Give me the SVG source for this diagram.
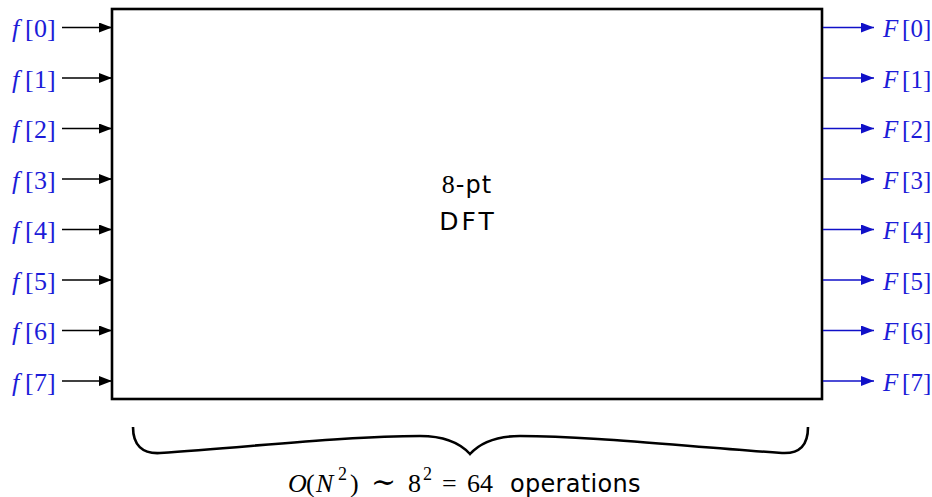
<svg xmlns="http://www.w3.org/2000/svg" width="932" height="497" viewBox="0 0 932 497">
<style>
.lbl{font-family:"Liberation Serif","DejaVu Serif",serif;font-size:26px;fill:#1c1cd8}
.it{font-style:italic}
.sans{font-family:"DejaVu Sans","Liberation Sans",sans-serif}
.math{font-family:"Liberation Serif","DejaVu Serif",serif;font-size:26px}
.in{stroke:#000;stroke-width:1.6;fill:none}
.out{stroke:#1010c8;stroke-width:1.6;fill:none}
.o{font-size:25px}
</style>
<defs>
<marker id="ab" markerWidth="14" markerHeight="10" refX="13" refY="5" orient="auto" markerUnits="userSpaceOnUse"><path d="M0,0 L13,5 L0,10 Z" fill="#000"/></marker>
<marker id="au" markerWidth="14" markerHeight="10" refX="13" refY="5" orient="auto" markerUnits="userSpaceOnUse"><path d="M0,0 L13,5 L0,10 Z" fill="#1010c8"/></marker>
</defs>
<rect width="932" height="497" fill="#fff"/>
<g id="dft">
<rect x="112" y="9" width="710" height="390" fill="#fff" stroke="#000" stroke-width="2.6"/>
<text x="467" y="193" text-anchor="middle" font-size="24" letter-spacing="1" class="sans"><tspan font-family="Liberation Serif,serif" font-size="26">8</tspan>-pt</text>
<text x="468" y="230" text-anchor="middle" font-size="25" letter-spacing="3" class="sans">DFT</text>
</g>
<g id="connectors">
<path class="in" marker-end="url(#ab)" d="M62,27.5H112"/>
<path class="in" marker-end="url(#ab)" d="M62,78H112"/>
<path class="in" marker-end="url(#ab)" d="M62,128.5H112"/>
<path class="in" marker-end="url(#ab)" d="M62,179H112"/>
<path class="in" marker-end="url(#ab)" d="M62,229.5H112"/>
<path class="in" marker-end="url(#ab)" d="M62,280H112"/>
<path class="in" marker-end="url(#ab)" d="M62,330.5H112"/>
<path class="in" marker-end="url(#ab)" d="M62,381H112"/>
<path class="out" marker-end="url(#au)" d="M823,27.5H874"/>
<path class="out" marker-end="url(#au)" d="M823,78H874"/>
<path class="out" marker-end="url(#au)" d="M823,128.5H874"/>
<path class="out" marker-end="url(#au)" d="M823,179H874"/>
<path class="out" marker-end="url(#au)" d="M823,229.5H874"/>
<path class="out" marker-end="url(#au)" d="M823,280H874"/>
<path class="out" marker-end="url(#au)" d="M823,330.5H874"/>
<path class="out" marker-end="url(#au)" d="M823,381H874"/>
</g>
<g id="inputs">
<text class="lbl" y="37"><tspan class="it" x="12">f</tspan><tspan x="25">[</tspan><tspan x="34">0</tspan><tspan x="47">]</tspan></text>
<text class="lbl" y="87.5"><tspan class="it" x="12">f</tspan><tspan x="25">[</tspan><tspan x="34">1</tspan><tspan x="47">]</tspan></text>
<text class="lbl" y="138"><tspan class="it" x="12">f</tspan><tspan x="25">[</tspan><tspan x="34">2</tspan><tspan x="47">]</tspan></text>
<text class="lbl" y="188.5"><tspan class="it" x="12">f</tspan><tspan x="25">[</tspan><tspan x="34">3</tspan><tspan x="47">]</tspan></text>
<text class="lbl" y="239"><tspan class="it" x="12">f</tspan><tspan x="25">[</tspan><tspan x="34">4</tspan><tspan x="47">]</tspan></text>
<text class="lbl" y="289.5"><tspan class="it" x="12">f</tspan><tspan x="25">[</tspan><tspan x="34">5</tspan><tspan x="47">]</tspan></text>
<text class="lbl" y="340"><tspan class="it" x="12">f</tspan><tspan x="25">[</tspan><tspan x="34">6</tspan><tspan x="47">]</tspan></text>
<text class="lbl" y="390.5"><tspan class="it" x="12">f</tspan><tspan x="25">[</tspan><tspan x="34">7</tspan><tspan x="47">]</tspan></text>
</g>
<g id="outputs">
<text class="lbl o" y="37"><tspan class="it" x="883">F</tspan><tspan x="902">[</tspan><tspan x="910.5">0</tspan><tspan x="923">]</tspan></text>
<text class="lbl o" y="87.5"><tspan class="it" x="883">F</tspan><tspan x="902">[</tspan><tspan x="910.5">1</tspan><tspan x="923">]</tspan></text>
<text class="lbl o" y="138"><tspan class="it" x="883">F</tspan><tspan x="902">[</tspan><tspan x="910.5">2</tspan><tspan x="923">]</tspan></text>
<text class="lbl o" y="188.5"><tspan class="it" x="883">F</tspan><tspan x="902">[</tspan><tspan x="910.5">3</tspan><tspan x="923">]</tspan></text>
<text class="lbl o" y="239"><tspan class="it" x="883">F</tspan><tspan x="902">[</tspan><tspan x="910.5">4</tspan><tspan x="923">]</tspan></text>
<text class="lbl o" y="289.5"><tspan class="it" x="883">F</tspan><tspan x="902">[</tspan><tspan x="910.5">5</tspan><tspan x="923">]</tspan></text>
<text class="lbl o" y="340"><tspan class="it" x="883">F</tspan><tspan x="902">[</tspan><tspan x="910.5">6</tspan><tspan x="923">]</tspan></text>
<text class="lbl o" y="390.5"><tspan class="it" x="883">F</tspan><tspan x="902">[</tspan><tspan x="910.5">7</tspan><tspan x="923">]</tspan></text>
</g>
<g id="brace">
<path d="M133,427 C133,445 142,454 160,453 C260,446 350,436 420,436 C445,436 460,443 470,454 C480,443 495,436 520,436 C590,436 680,446 782,453 C800,454 808,445 808,427" fill="none" stroke="#000" stroke-width="2.6"/>
<text class="math" y="492"><tspan class="it" x="288">O</tspan><tspan x="306">(</tspan><tspan class="it" x="316">N</tspan><tspan x="338" y="480" font-size="18">2</tspan><tspan x="350" y="492">)</tspan><tspan x="371" font-size="30">∼</tspan><tspan x="408">8</tspan><tspan x="423" y="480" font-size="18">2</tspan><tspan x="442" y="492">=</tspan><tspan x="467">64</tspan><tspan x="510" class="sans" font-size="24" letter-spacing="0.3">operations</tspan></text>
</g>
</svg>
